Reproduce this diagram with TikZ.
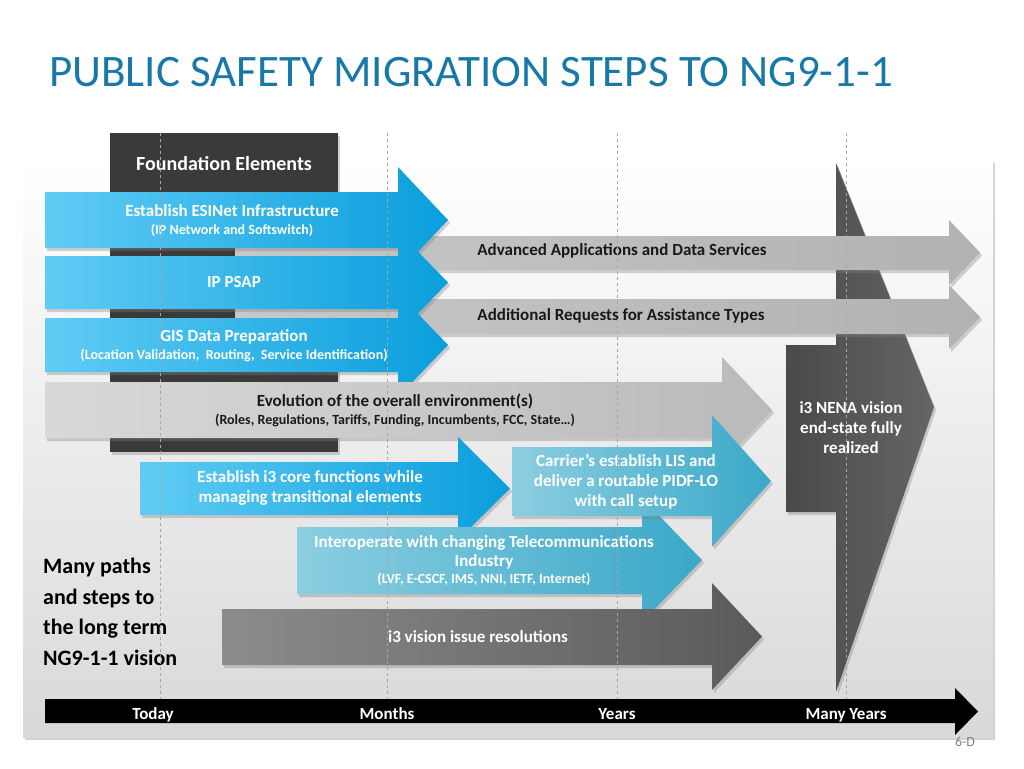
\documentclass[tikz,border=0pt]{standalone}
\usepackage{fontspec}
\setmainfont{Carlito}
\usepackage{tikz}
\usetikzlibrary{shadows}

\definecolor{titleblue}{RGB}{24,121,168}
\definecolor{blueL}{RGB}{96,204,245}
\definecolor{blueR}{RGB}{10,158,220}
\definecolor{tealL}{RGB}{140,206,225}
\definecolor{tealR}{RGB}{58,168,200}
\definecolor{greyL}{RGB}{200,200,200}
\definecolor{greyR}{RGB}{178,178,178}
\definecolor{darkL}{RGB}{140,140,140}
\definecolor{darkR}{RGB}{90,90,90}
\definecolor{nena}{RGB}{74,74,74}
\definecolor{founddark}{RGB}{58,58,58}

% small second lines
\newcommand{\subfont}{\fontsize{14}{16}\selectfont}

% arrow outline: style, x left, x head, x tip, body top, body bottom, head top, head bottom
\newcommand{\steparrow}[8]{%
  \path[#1] (#2,#5) -- (#3,#5) -- (#3,#7) -- (#4,{(#7+#8)/2}) -- (#3,#8)
    -- (#3,#6) -- (#2,#6) -- cycle;}

\tikzset{
  shade/.style={drop shadow={opacity=0.35,shadow xshift=2pt,shadow yshift=-3pt}},
  bluearrow/.style={shade,left color=blueL,right color=blueR},
  tealarrow/.style={shade,left color=tealL,right color=tealR},
  greyarrow/.style={shade,left color=greyL,right color=greyR},
  evolarrow/.style={shade,left color=greyL!70!white,right color=greyR!90!white},
  darkarrow/.style={shade,left color=darkL,right color=darkR},
  whitetext/.style={text=white,font=\bfseries\fontsize{17}{20}\selectfont,align=center,inner sep=0pt},
  blacktext/.style={text=black!90,font=\bfseries\fontsize{17}{20}\selectfont,align=center,inner sep=0pt},
  timetext/.style={text=white,font=\bfseries\fontsize{17}{18}\selectfont,inner sep=0pt,anchor=base},
  timeline/.style={draw=gray!70,dashed,line width=0.8pt}
}

\begin{document}
\begin{tikzpicture}[x=1pt,y=-1pt]
\useasboundingbox (0,0) rectangle (1024,768);
\fill[white] (0,0) rectangle (1024,768);

% panel
\shade[top color=white,bottom color=black!15] (23,160) rectangle (993,737);

% title
\node[anchor=base west,text=titleblue,font=\fontsize{45}{50}\selectfont,inner sep=0pt]
  (title) at (49,86) {PUBLIC SAFETY MIGRATION STEPS TO NG9-1-1};

% foundation block
\fill[founddark,shade] (110,133) rectangle (338,452);
\node[whitetext,font=\bfseries\fontsize{20}{22}\selectfont] (found) at (224,164) {Foundation Elements};

% i3 NENA vision
\path[shade,left color=nena,right color=nena!85!white] (786,345) -- (836,345) -- (836,163) -- (934,407)
  -- (836,692) -- (836,512) -- (786,512) -- cycle;
\node[whitetext] (nena) at (851,428) {i3 NENA vision\\end-state fully\\realized};

% long grey arrows
\steparrow{greyarrow}{235}{949}{980}{236}{270}{220}{285}
\node[blacktext] (adv) at (622,251) {Advanced Applications and Data Services};
\steparrow{greyarrow}{235}{949}{980}{299}{334}{285}{349}
\node[blacktext] (addl) at (621,316) {Additional Requests for Assistance Types};

% foundation arrows
\steparrow{bluearrow}{45}{398}{448}{192}{248}{167}{273}
\node[whitetext] (esinet) at (232,221) {Establish ESINet Infrastructure\\[-2pt]{\subfont (IP Network and Softswitch)}};
\steparrow{bluearrow}{45}{398}{448}{256}{309}{231}{334}
\node[whitetext] (psap) at (234,282) {IP PSAP};
\steparrow{bluearrow}{45}{398}{448}{318}{372}{293}{397}
\node[whitetext] (gis) at (234,346) {GIS Data Preparation\\[-2pt]{\subfont (Location Validation,\ \ Routing,\ \ Service Identification)}};

% environment
\steparrow{evolarrow}{45}{722}{772}{382}{438}{357}{463}
\node[blacktext] (evol) at (395,410) {Evolution of the overall environment(s)\\[-2pt]{\subfont (Roles, Regulations,\ Tariffs,\ Funding,\ Incumbents, FCC, State\dots)}};

% transition steps
\steparrow{bluearrow}{140}{458}{510}{462}{515}{437}{540}
\node[whitetext] (core) at (310,488) {Establish i3 core functions while\\managing transitional elements};
\steparrow{tealarrow}{297}{642}{702}{527}{594}{498}{622}
\node[whitetext] (telco) at (484,561) {Interoperate with changing Telecommunications\\[-1pt]Industry\\[-3pt]{\subfont (LVF, E-CSCF,\ IMS,\ NNI, IETF,\ Internet)}};
\steparrow{tealarrow}{512}{712}{771}{447}{516}{415}{547}
\node[whitetext] (lis) at (626,482) {Carrier’s establish LIS and\\deliver a routable PIDF-LO\\with call setup};
\steparrow{darkarrow}{222}{712}{762}{609}{665}{583}{690}
\node[whitetext] (issue) at (478,637) {i3 vision issue resolutions};

% left caption
\node[anchor=north west,align=left,font=\bfseries\fontsize{22}{30.5}\selectfont,inner sep=0pt]
  (paths) at (43,558) {Many paths\\and steps to\\the long term\\NG9-1-1 vision};

% time marks
\foreach \x in {160,387,617,846}
  \draw[timeline] (\x,133) -- (\x,699);

% time axis
\steparrow{fill=black}{45}{955}{978}{699}{723}{688}{735}
\node[timetext] (today) at (153,719) {Today};
\node[timetext] (months) at (387,719) {Months};
\node[timetext] (years) at (617,719) {Years};
\node[timetext] (many) at (846,719) {Many Years};

\node[text=gray,font=\fontsize{14}{16}\selectfont,inner sep=0pt] (page) at (965,742) {6-D};
\end{tikzpicture}
\end{document}
